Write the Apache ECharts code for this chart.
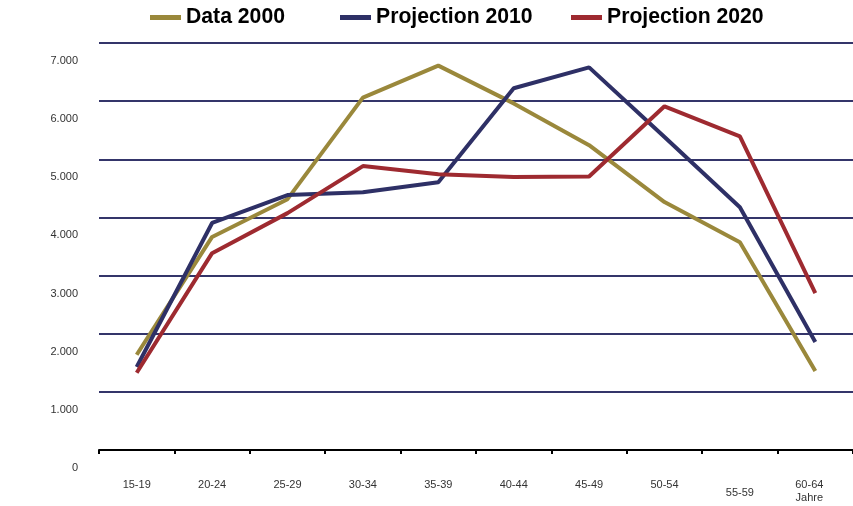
<!DOCTYPE html>
<html>
<head>
<meta charset="utf-8">
<script src="https://cdn.jsdelivr.net/npm/echarts@6/dist/echarts.min.js"></script>
<style>
  html, body { margin: 0; padding: 0; background: #fff; }
  #main { width: 853px; height: 506px; }
</style>
</head>
<body>
<div id="main"></div>
<script>
// age groups on the x axis
var ageGroups = ['15-19', '20-24', '25-29', '30-34', '35-39', '40-44', '45-49', '50-54', '55-59', '60-64'];

// values (against the printed tick labels)
var data2000 = [1930, 3960, 4610, 6360, 6910, 6260, 5540, 4560, 3870, 1650];
var proj2010 = [1720, 4200, 4680, 4730, 4900, 6520, 6880, 5680, 4470, 2150];
var proj2020 = [1620, 3680, 4370, 5180, 5040, 4990, 5000, 6210, 5690, 2990];

var seriesNames = ['Data 2000', 'Projection 2010', 'Projection 2020'];
var yTicks = [0, 1000, 2000, 3000, 4000, 5000, 6000, 7000];

var chartDom = document.getElementById('main');
var myChart = echarts.init(chartDom);

var fontName = '"Liberation Sans", Arial, sans-serif';

var xData = ageGroups.map(function (a) {
  if (a === '55-59') {
    return { value: a, textStyle: { padding: [8, 0, 0, 0] } };
  }
  if (a === '60-64') {
    return { value: a + '\nJahre', textStyle: { padding: [0, 12, 0, 0] } };
  }
  return a;
});

function lineSeries(name, values, color) {
  return {
    name: name,
    type: 'line',
    yAxisIndex: 1,
    data: values,
    symbol: 'none',
    lineStyle: { width: 4, color: color },
    itemStyle: { color: color },
    z: 5
  };
}

// one legend per item, the gaps in the original are uneven
var legendLeft = [145, 335, 566];
var legends = seriesNames.map(function (n, i) {
  return {
    top: 2,
    left: legendLeft[i],
    icon: 'rect',
    itemWidth: 31,
    itemHeight: 5,
    textStyle: { fontSize: 21.2, fontWeight: 'bold', color: '#000', fontFamily: fontName },
    data: [n]
  };
});

var option = {
  animation: false,
  backgroundColor: '#fff',
  textStyle: { fontFamily: fontName },
  legend: legends,
  grid: {
    left: 99,
    right: -3,
    top: 43,
    bottom: 56
  },
  xAxis: {
    type: 'category',
    data: xData,
    boundaryGap: true,
    axisLine: { lineStyle: { color: '#000', width: 2 } },
    axisTick: { show: true, length: 4, lineStyle: { color: '#000', width: 2 } },
    axisLabel: {
      color: '#333',
      fontSize: 11,
      margin: 28,
      lineHeight: 13,
      interval: 0
    },
    splitLine: { show: false }
  },
  yAxis: [
    {
      // grid lines and printed labels (labels sit lower than the lines)
      type: 'value',
      min: yTicks[0],
      max: yTicks[yTicks.length - 1],
      interval: 1000,
      axisLine: { show: false },
      axisTick: { show: false },
      axisLabel: {
        color: '#333',
        fontSize: 11,
        margin: 21,
        lineHeight: 18,
        showMinLabel: true,
        showMaxLabel: true,
        hideOverlap: false,
        formatter: function (v) {
          var t = v === 0 ? '0' : (v / 1000).toFixed(0) + '.000';
          return '\n\n' + t;
        }
      },
      splitLine: { lineStyle: { color: '#34356a', width: 2 } }
    },
    {
      // data scale, matched to the printed labels
      type: 'value',
      min: 290,
      max: 7300,
      show: false,
      splitLine: { show: false }
    }
  ],
  series: [
    lineSeries(seriesNames[0], data2000, '#9a883b'),
    lineSeries(seriesNames[1], proj2010, '#2e3066'),
    lineSeries(seriesNames[2], proj2020, '#9e2a30')
  ]
};

myChart.setOption(option);
</script>
</body>
</html>
